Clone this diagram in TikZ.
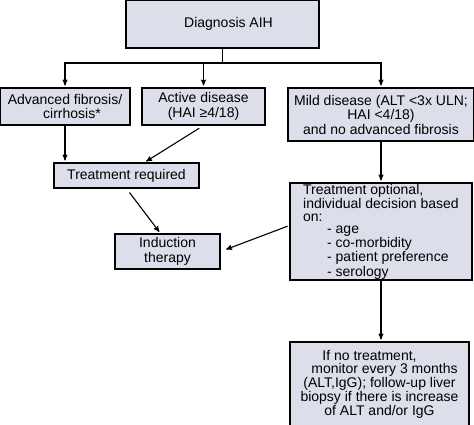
\documentclass[tikz,border=0pt]{standalone}
\usepackage{fontspec}
\setmainfont{Liberation Sans}
\usetikzlibrary{arrows}
\definecolor{boxfill}{RGB}{220,222,234}

\begin{document}
\begin{tikzpicture}[x=1pt,y=-1pt,>=stealth',shorten >=2pt,line width=1.1pt,
    box/.style={draw,fill=boxfill,inner sep=0pt,align=center,
      font=\fontsize{14}{14.5}\selectfont}]
    \useasboundingbox (0,0) rectangle (474,425);

    \node[box, minimum width=193pt, minimum height=48pt] (diag) at (222.5,24) {\hspace*{12pt}Diagnosis AIH};
    \coordinate (split) at (222.5,63);
    \node[box, minimum width=130pt, minimum height=37pt] (fib) at (65,106.5) {Advanced fibrosis/\\\hspace*{14pt}cirrhosis*};
    \node[box, minimum width=123pt, minimum height=37pt] (act) at (203.5,106.5) {Active disease\\(HAI ≥4/18)};
    \node[box, minimum width=186pt, minimum height=53pt] (mild) at (381,114.5)
        {Mild disease (ALT <3x ULN;\\HAI <4/18)\hspace*{30pt}\\and no advanced fibrosis};
    \node[box, minimum width=145pt, minimum height=25pt] (req) at (126.5,175.5) {Treatment required};
    \node[box, minimum width=105pt, minimum height=35pt] (ind) at (167.5,251.5) {Induction\\therapy};
    \node[box, align=left, minimum width=182pt, minimum height=97pt,
        font=\fontsize{14}{12.8}\selectfont] (opt) at (381,231.5)
        {Treatment optional,\\individual decision based\\on:\\
         \hspace*{24pt}- age\\\hspace*{24pt}- co-morbidity\\
         \hspace*{24pt}- patient preference\\\hspace*{24pt}- serology};
    \node[box, minimum width=179pt, minimum height=84pt, font=\fontsize{14}{13.7}\selectfont] (mon) at (379.5,384)
        {If no treatment,\hspace*{20pt}\\\hspace*{10pt}monitor every 3 months\\(ALT,IgG); follow-up liver\\biopsy if there is increase\\of ALT and/or IgG};

    \draw[shorten >=0pt] (diag) -- (split);
    \draw[->] (split) -| (fib);
    \draw[->] (split) -| (act);
    \draw[->] (split) -| (opt.north |- mild.north);
    \draw[->] (fib) -- (fib |- req.north);
    \draw[->,shorten <=5pt] (act.south) -- ([xshift=18pt]req.north);
    \draw[->,shorten <=5pt] (req.south) -- ([xshift=-7pt]ind.north);
    \draw[->,shorten <=2pt,shorten >=6pt] ([yshift=6pt]opt.west) -- (ind.east);
    \draw[->] (opt.north |- mild.south) -- (opt);
    \draw[->] (opt) -- (opt |- mon.north);
\end{tikzpicture}
\end{document}
